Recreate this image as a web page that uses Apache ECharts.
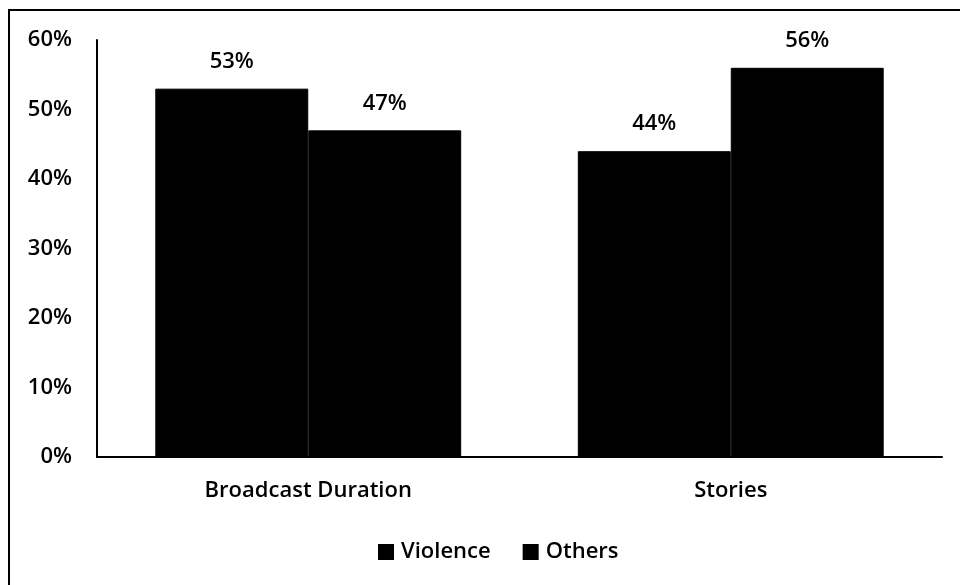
<!DOCTYPE html>
<html>
<head>
<meta charset="utf-8">
<script src="https://cdn.jsdelivr.net/npm/echarts@6/dist/echarts.min.js"></script>
<style>
html,body{margin:0;padding:0;background:#fff;}
#main{width:960px;height:585px;}
</style>
</head>
<body>
<div id="main"></div>
<script>
var categories = ['Broadcast Duration', 'Stories'];
var violence = [53, 44];
var others = [47, 56];
var yTicks = [0, 10, 20, 30, 40, 50, 60];

var font = '"Open Sans", sans-serif';
var fs = 22;
var chart = echarts.init(document.getElementById('main'), null, {renderer: 'canvas'});
chart.setOption({
  backgroundColor: '#ffffff',
  animation: false,
  graphic: [{
    type: 'rect',
    shape: {x: 9, y: 10, width: 980, height: 620},
    style: {fill: 'none', stroke: '#000', lineWidth: 2},
    silent: true
  }],
  grid: {left: 97, right: 18, top: 40, bottom: 128, containLabel: false},
  legend: {
    data: ['Violence', 'Others'],
    left: 378, top: 541, padding: 0,
    itemWidth: 14, itemHeight: 14, itemGap: 32,
    icon: 'rect',
    textStyle: {color: '#000', fontFamily: font, fontWeight: 600, fontSize: fs, padding: [0, 0, 0, 3]}
  },
  xAxis: {
    type: 'category',
    data: categories,
    axisLine: {show: true, lineStyle: {color: '#000', width: 2}},
    axisTick: {show: false},
    axisLabel: {color: '#000', fontFamily: font, fontWeight: 600, fontSize: fs, margin: 23}
  },
  yAxis: {
    type: 'value',
    min: yTicks[0], max: yTicks[yTicks.length - 1], interval: 10,
    axisLine: {show: true, lineStyle: {color: '#000', width: 2}},
    axisTick: {show: false},
    splitLine: {show: false},
    axisLabel: {color: '#000', fontFamily: font, fontWeight: 600, fontSize: fs, margin: 25, formatter: '{value}%'}
  },
  series: [{
    name: 'Violence', type: 'bar', data: violence,
    barGap: '0%', barCategoryGap: '27.6%',
    itemStyle: {color: '#000', borderColor: '#000', borderWidth: 1},
    label: {show: true, position: 'top', distance: 16, color: '#000', fontFamily: font, fontWeight: 600, fontSize: fs, formatter: '{c}%'}
  }, {
    name: 'Others', type: 'bar', data: others,
    barGap: '0%', barCategoryGap: '27.6%',
    itemStyle: {color: '#000', borderColor: '#000', borderWidth: 1},
    label: {show: true, position: 'top', distance: 16, color: '#000', fontFamily: font, fontWeight: 600, fontSize: fs, formatter: '{c}%'}
  }]
});
</script>
</body>
</html>
